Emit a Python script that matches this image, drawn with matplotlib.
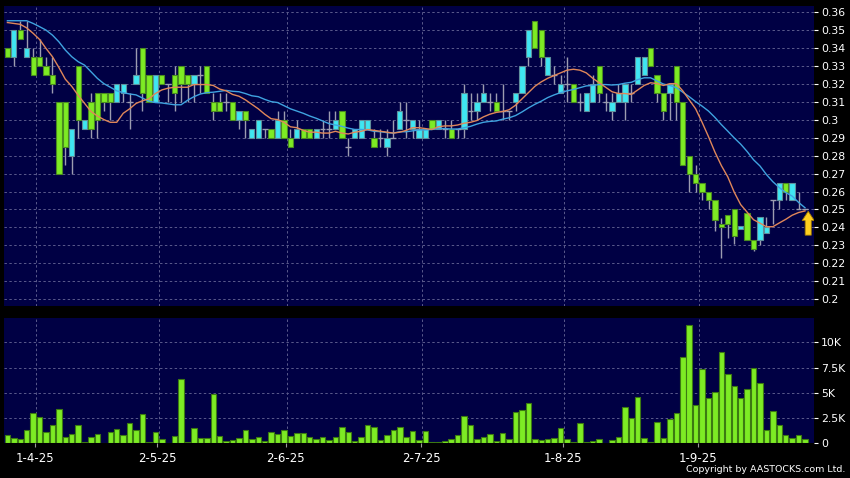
import matplotlib
matplotlib.use("Agg")

import matplotlib.pyplot as plt
import numpy as np
import pandas as pd

# daily bars, 26 Mar 2025 .. 24 Sep 2025 (index 0..124)
o = [0.34, 0.335, 0.35, 0.335, 0.335, 0.335, 0.33, 0.325, 0.31, 0.31,
     0.28, 0.33, 0.295, 0.31, 0.315, 0.315, 0.315, 0.31, 0.315, 0.31,
     0.32, 0.34, 0.325, 0.31, 0.325, 0.32, 0.325, 0.33, 0.325, 0.32,
     0.325, 0.33, 0.31, 0.31, 0.31, 0.31, 0.30, 0.305, 0.29, 0.29,
     0.295, 0.295, 0.29, 0.30, 0.29, 0.29, 0.295, 0.295, 0.29, 0.295,
     0.295, 0.295, 0.305, 0.285, 0.29, 0.29, 0.295, 0.29, 0.29, 0.285,
     0.29, 0.295, 0.30, 0.295, 0.29, 0.29, 0.30, 0.295, 0.295, 0.295,
     0.295, 0.295, 0.305, 0.305, 0.31, 0.31, 0.31, 0.305, 0.305, 0.31,
     0.315, 0.335, 0.355, 0.35, 0.325, 0.325, 0.315, 0.32, 0.32, 0.31,
     0.305, 0.31, 0.33, 0.31, 0.305, 0.31, 0.31, 0.315, 0.32, 0.325,
     0.34, 0.325, 0.315, 0.315, 0.33, 0.31, 0.28, 0.27, 0.265, 0.26,
     0.255, 0.242, 0.247, 0.25, 0.239, 0.248, 0.233, 0.233, 0.237, 0.255,
     0.255, 0.265, 0.255, 0.25, 0.25]
h = [0.34, 0.35, 0.355, 0.355, 0.34, 0.345, 0.335, 0.335, 0.31, 0.31,
     0.295, 0.33, 0.30, 0.315, 0.315, 0.315, 0.315, 0.32, 0.32, 0.315,
     0.34, 0.34, 0.325, 0.325, 0.325, 0.32, 0.33, 0.33, 0.325, 0.325,
     0.33, 0.33, 0.315, 0.315, 0.315, 0.31, 0.305, 0.305, 0.295, 0.30,
     0.295, 0.295, 0.305, 0.305, 0.295, 0.30, 0.295, 0.295, 0.295, 0.30,
     0.305, 0.305, 0.305, 0.29, 0.295, 0.30, 0.30, 0.295, 0.295, 0.295,
     0.30, 0.31, 0.31, 0.30, 0.30, 0.295, 0.30, 0.30, 0.30, 0.30,
     0.295, 0.32, 0.315, 0.315, 0.32, 0.315, 0.315, 0.32, 0.305, 0.315,
     0.33, 0.35, 0.355, 0.35, 0.335, 0.33, 0.325, 0.335, 0.32, 0.315,
     0.315, 0.325, 0.33, 0.315, 0.315, 0.32, 0.32, 0.32, 0.335, 0.335,
     0.34, 0.325, 0.315, 0.32, 0.33, 0.31, 0.28, 0.275, 0.265, 0.26,
     0.255, 0.245, 0.247, 0.25, 0.241, 0.248, 0.233, 0.246, 0.246, 0.255,
     0.265, 0.265, 0.265, 0.26, 0.25]
l = [0.335, 0.33, 0.345, 0.335, 0.325, 0.33, 0.325, 0.315, 0.27, 0.275,
     0.27, 0.29, 0.295, 0.29, 0.29, 0.305, 0.30, 0.31, 0.31, 0.295,
     0.32, 0.305, 0.31, 0.31, 0.32, 0.31, 0.305, 0.31, 0.31, 0.31,
     0.315, 0.315, 0.30, 0.305, 0.305, 0.30, 0.295, 0.29, 0.29, 0.29,
     0.29, 0.29, 0.29, 0.29, 0.285, 0.29, 0.29, 0.29, 0.29, 0.29,
     0.29, 0.295, 0.29, 0.28, 0.29, 0.29, 0.295, 0.285, 0.285, 0.28,
     0.29, 0.295, 0.29, 0.29, 0.29, 0.29, 0.295, 0.295, 0.29, 0.29,
     0.29, 0.29, 0.30, 0.30, 0.31, 0.305, 0.305, 0.30, 0.30, 0.305,
     0.315, 0.33, 0.34, 0.33, 0.325, 0.32, 0.315, 0.31, 0.31, 0.305,
     0.305, 0.31, 0.31, 0.305, 0.30, 0.31, 0.30, 0.31, 0.32, 0.325,
     0.33, 0.31, 0.30, 0.30, 0.30, 0.275, 0.26, 0.26, 0.255, 0.25,
     0.238, 0.223, 0.234, 0.231, 0.239, 0.233, 0.227, 0.230, 0.237, 0.242,
     0.25, 0.255, 0.255, 0.25, 0.25]
c = [0.335, 0.35, 0.345, 0.34, 0.325, 0.33, 0.325, 0.32, 0.27, 0.285,
     0.295, 0.30, 0.30, 0.295, 0.30, 0.31, 0.31, 0.32, 0.32, 0.31,
     0.325, 0.315, 0.31, 0.325, 0.32, 0.32, 0.315, 0.32, 0.32, 0.325,
     0.325, 0.315, 0.305, 0.305, 0.31, 0.30, 0.305, 0.30, 0.295, 0.30,
     0.295, 0.29, 0.30, 0.29, 0.285, 0.295, 0.29, 0.29, 0.295, 0.295,
     0.295, 0.30, 0.29, 0.285, 0.295, 0.30, 0.30, 0.285, 0.29, 0.29,
     0.29, 0.305, 0.30, 0.30, 0.295, 0.295, 0.295, 0.30, 0.295, 0.29,
     0.295, 0.315, 0.305, 0.31, 0.315, 0.31, 0.305, 0.305, 0.305, 0.315,
     0.33, 0.35, 0.34, 0.335, 0.335, 0.325, 0.32, 0.32, 0.31, 0.31,
     0.315, 0.32, 0.315, 0.31, 0.31, 0.315, 0.32, 0.315, 0.335, 0.335,
     0.33, 0.315, 0.305, 0.32, 0.31, 0.275, 0.27, 0.265, 0.26, 0.255,
     0.244, 0.24, 0.242, 0.235, 0.241, 0.233, 0.228, 0.246, 0.24, 0.255,
     0.265, 0.26, 0.265, 0.25, 0.25]

# volume in thousands
vol = [0.83, 0.5, 0.42, 1.32, 2.97, 2.6, 1.16, 1.8, 3.37, 0.58,
       0.9, 1.8, 0.13, 0.65, 0.92, 0.03, 1.16, 1.42, 0.83, 1.98,
       1.32, 2.9, 0.13, 1.09, 0.4, 0.07, 0.76, 6.37, 0.1, 1.52,
       0.53, 0.53, 4.85, 0.76, 0.2, 0.33, 0.5, 1.32, 0.46, 0.6,
       0.26, 1.16, 0.92, 1.32, 0.76, 1.06, 1.06, 0.66, 0.46, 0.6,
       0.33, 0.6, 1.65, 1.09, 0.23, 0.6, 1.82, 1.65, 0.33, 0.86,
       1.32, 1.65, 0.66, 1.22, 0.33, 1.25, 0.13, 0.13, 0.26, 0.46,
       0.83, 2.7, 1.85, 0.4, 0.66, 0.92, 0.2, 1.0, 0.4, 3.07,
       3.3, 4.0, 0.46, 0.33, 0.4, 0.56, 1.55, 0.4, 0.17, 1.98,
       0.1, 0.2, 0.4, 0.0, 0.33, 0.63, 3.63, 2.54, 4.55, 0.5,
       0.13, 2.15, 0.5, 2.4, 3.04, 8.58, 11.7, 3.76, 7.36, 4.52,
       5.1, 9.08, 6.86, 5.68, 4.52, 5.41, 7.49, 6.0, 1.32, 3.23,
       1.82, 0.83, 0.5, 0.83, 0.4]

# moving averages before a full window exists
ma10_head = [0.354, 0.3535, 0.353, 0.351, 0.348, 0.3446, 0.3396, 0.335, 0.329]
ma20_head = [0.355, 0.355, 0.355, 0.355, 0.3535, 0.3517, 0.3498, 0.347, 0.3433, 0.3387,
             0.335, 0.3322, 0.3303, 0.3266, 0.3229, 0.320, 0.318, 0.316, 0.315]

tick_idx = [4, 23, 43, 64, 86, 107]
tick_lbl = ["1-4-25", "2-5-25", "2-6-25", "2-7-25", "1-8-25", "1-9-25"]

p_ticks = [0.20, 0.21, 0.22, 0.23, 0.24, 0.25, 0.26, 0.27, 0.28,
           0.29, 0.30, 0.31, 0.32, 0.33, 0.34, 0.35, 0.36]
v_ticks = [0, 2.5, 5, 7.5, 10]
v_lbl = ["0", "2.5K", "5K", "7.5K", "10K"]

bg = "#000044"
up_c = "#3fe6f2"
dn_c = "#7deb24"
up_e = "#5f8f9c"
dn_e = "#4a8c20"
wick_c = "#9c9cb0"
grid_c = "#5a5a8c"
gls = (0, (2.5, 2.5))

o = np.array(o)
h = np.array(h)
l = np.array(l)
c = np.array(c)
vol = np.array(vol)
n = len(c)
x = np.arange(n)

cs = pd.Series(c)
m10 = cs.rolling(10).mean().to_numpy()
m10[:9] = ma10_head
m20 = cs.rolling(20).mean().to_numpy()
m20[:19] = ma20_head

plt.rcParams["font.family"] = ["DejaVu Sans"]

fig = plt.figure(figsize=(8.5, 4.78), dpi=100, facecolor="black")
ax = fig.add_axes([4 / 850, 1 - 306 / 478, 810 / 850, 300 / 478])
av = fig.add_axes([4 / 850, 1 - 443.3 / 478, 810 / 850, 125.3 / 478], sharex=ax)

for a in (ax, av):
    a.set_facecolor(bg)
    for s in a.spines.values():
        s.set_visible(False)
    for t in tick_idx:
        a.axvline(t + 0.5, color=grid_c, lw=0.7, ls=gls, zorder=0)

for v in p_ticks:
    ax.axhline(v, color=grid_c, lw=0.7, ls=gls, zorder=0)
for v in v_ticks[1:]:
    av.axhline(v, color=grid_c, lw=0.7, ls=gls, zorder=0)

# candles
ax.vlines(x, l, h, color=wick_c, lw=1.0, zorder=2)
up = c > o
dn = c < o
fl = c == o
ax.bar(x[up], (c - o)[up], bottom=o[up], width=0.82, color=up_c, edgecolor=up_e, lw=0.8, zorder=3)
ax.bar(x[dn], (o - c)[dn], bottom=c[dn], width=0.82, color=dn_c, edgecolor=dn_e, lw=0.8, zorder=3)
ax.hlines(c[fl], x[fl] - 0.45, x[fl] + 0.45, color=wick_c, lw=1.0, zorder=3)

ax.plot(x, m20, color="#3fa3e0", lw=1.0, zorder=4)
ax.plot(x, m10, color="#e0875a", lw=1.0, zorder=4)

# last-day marker
ax.arrow(n - 0.5, 0.2357, 0, 0.0133, width=0.95, head_width=1.9, head_length=0.0052,
         length_includes_head=True, fc="#ffcf1f", ec="#a07800", lw=0.6, zorder=5)

ax.set_xlim(-0.53, 125.4)
ax.set_ylim(0.1963, 0.3632)
ax.yaxis.tick_right()
ax.set_yticks(p_ticks)
ax.set_yticklabels([f"{v:.2f}".rstrip("0").rstrip(".") for v in p_ticks])
ax.tick_params(axis="y", colors="white", labelsize=7.8, length=3, width=0.8, pad=2)
ax.tick_params(axis="x", bottom=False, labelbottom=False)

# volume
av.bar(x, vol, width=0.85, color=dn_c, edgecolor="#3c7a12", lw=0.8, zorder=3)
av.set_ylim(0, 12.4)
av.yaxis.tick_right()
av.set_yticks(v_ticks)
av.set_yticklabels(v_lbl)
av.tick_params(axis="y", colors="white", labelsize=7.8, length=3, width=0.8, pad=2)
av.set_xticks([t + 0.3 for t in tick_idx])
av.set_xticklabels(tick_lbl)
av.tick_params(axis="x", colors="#9a9a9a", labelcolor="white", labelsize=8.5, length=3, width=0.8, pad=3)

fig.text(0.994, 0.008, "Copyright by AASTOCKS.com Ltd.", ha="right", va="bottom",
         color="white", fontsize=6.8)

fig.savefig("out.png", dpi=100, facecolor="black")
plt.close(fig)
